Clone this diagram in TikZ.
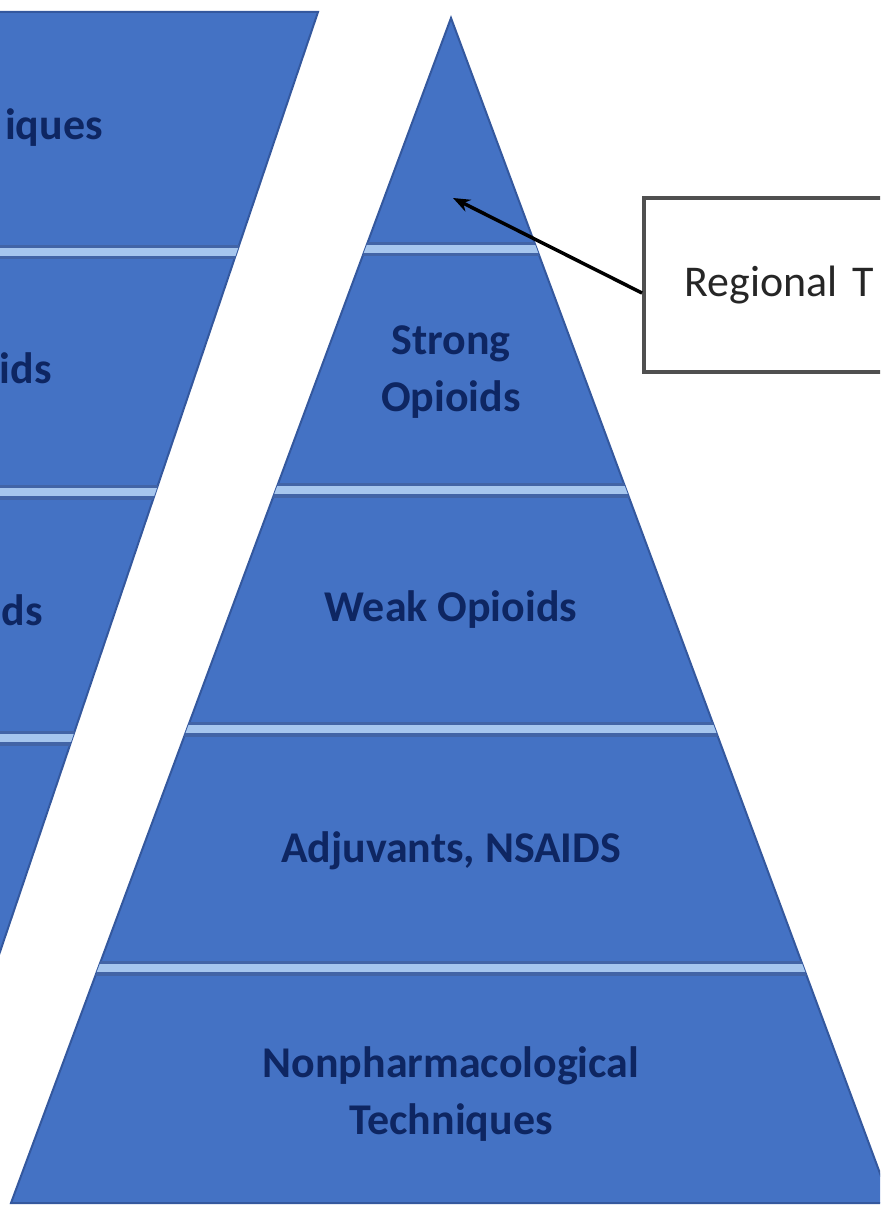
\documentclass[tikz,border=0pt]{standalone}
\usepackage{fontspec}
\setmainfont{Carlito}
\usepackage{tikz}
\usetikzlibrary{arrows,arrows.meta,shapes,positioning,calc}
\definecolor{pyrblue}{RGB}{68,114,196}
\definecolor{pyredge}{RGB}{52,88,158}
\definecolor{sepdark}{RGB}{66,100,166}
\definecolor{seplight}{RGB}{166,198,238}
\definecolor{labelnavy}{RGB}{14,38,98}
\definecolor{boxgray}{RGB}{80,80,80}
\tikzstyle{arrow} = [line width=0.07cm,-{Stealth[length=0.34cm,width=0.26cm]},color=black]
\tikzstyle{layer} = [fill=pyrblue, draw=pyredge, line width=0.04cm]
\tikzstyle{sepline} = [draw=sepdark, line width=0.3cm]
\tikzstyle{seplite} = [draw=seplight, line width=0.17cm]
\tikzstyle{levellabel} = [text=labelnavy, font=\fontsize{25}{32}\selectfont\bfseries, align=center, inner sep=0pt]
\tikzstyle{calloutbox} = [rectangle, draw=boxgray, line width=0.07cm, fill=white, text=black!85, font=\fontsize{25}{31}\selectfont, align=left, text width=4.5cm, inner xsep=0.82cm, minimum height=3.48cm]

\begin{document}
\begin{tikzpicture}[x=0.02cm, y=-0.02cm]
\useasboundingbox (0,0) rectangle (880,1206);
\clip (0,0) rectangle (880,1206);

% Left pyramid, cut off by the page
\path[layer] (-120,12) -- (318,12) -- (-86,1206) -- (-120,1206) -- cycle;
\begin{scope}
\clip (-120,12) -- (318,12) -- (-86,1206) -- (-120,1206) -- cycle;
\foreach \y in {252,492,738} {
  \draw[sepline] (-120,\y) -- (880,\y);
  \draw[seplite] (-120,\y) -- (880,\y);
}
\end{scope}
\node[levellabel, anchor=base east] (lefttop) at (103,140) {iques};
\node[levellabel, anchor=base east] (leftsecond) at (52,383) {ids};
\node[levellabel, anchor=base east] (leftthird) at (43,625) {ds};

% Right pyramid
\path[layer] (451,18) -- (891,1203) -- (11,1203) -- cycle;
\begin{scope}
\clip (451,18) -- (891,1203) -- (11,1203) -- cycle;
\foreach \y in {249,490,729,968} {
  \draw[sepline] (0,\y) -- (880,\y);
  \draw[seplite] (0,\y) -- (880,\y);
}
\end{scope}

% Levels
\node[levellabel] (strong) at (451,372) {Strong\\Opioids};
\node[levellabel] (weak) at (451,610) {Weak Opioids};
\node[levellabel] (adjuvant) at (451,851) {Adjuvants, NSAIDS};
\node[levellabel] (nonpharm) at (451,1094) {Nonpharmacological\\Techniques};

% Callout
\node[calloutbox, anchor=west] (regional) at (642,285) {Regional T};
\coordinate (tiptop) at (453,198);
\draw[arrow] ([yshift=-0.16cm]regional.west) -- (tiptop);
\end{tikzpicture}
\end{document}
